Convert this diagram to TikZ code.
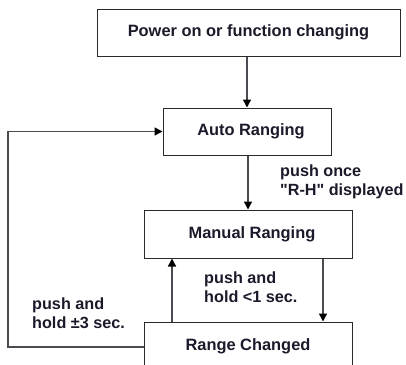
\documentclass[tikz,border=0pt]{standalone}
\usepackage{fontspec}
\setmainfont[Ligatures=TeXOff]{Liberation Sans}
\usetikzlibrary{arrows.meta}
\definecolor{linecol}{HTML}{4A4A50}
\definecolor{boxcol}{HTML}{2A2A2A}
\definecolor{txtcol}{HTML}{1A1A2A}
\begin{document}
\begin{tikzpicture}[x=1pt,y=-1pt,
  statebox/.style={draw=boxcol,line width=1pt,inner sep=0pt,text=txtcol,
    font=\fontsize{16.4}{19}\selectfont\bfseries},
  lbl/.style={inner sep=0pt,anchor=west,align=left,text=txtcol,
    font=\fontsize{16.2}{19}\selectfont\bfseries},
  arr/.style={draw=linecol,line width=1.4pt,-{Triangle[length=8pt,width=8pt,color=black]}},
  plainline/.style={draw=linecol,line width=1.4pt}]
\useasboundingbox (0,0) rectangle (406,364);
\clip (0,0) rectangle (406,364);
\node[statebox,minimum width=303pt,minimum height=47pt] (power) at (248.5,32.5) {Power on or function changing};
\node[statebox,minimum width=168pt,minimum height=47pt] (auto) at (247,131.5) {\hspace{8pt}Auto Ranging};
\node[statebox,minimum width=208pt,minimum height=48pt] (manual) at (248,234) {\hspace{8pt}Manual Ranging};
\node[statebox,minimum width=208pt,minimum height=48pt] (range) at (248,346) {Range Changed};
\draw[arr] (auto.north |- power.south) -- (auto.north);
\draw[arr] ([xshift=1pt]auto.south) -- ([xshift=1pt]auto.south |- manual.north);
\draw[arr] ([xshift=75pt]manual.south) -- ([xshift=75pt]range.north);
\draw[arr] ([xshift=-76pt]range.north) -- ([xshift=-76pt]manual.south);
\coordinate (loopcorner) at (8,347);
\draw[arr] ([yshift=-1pt]range.west) -- (loopcorner) |- (auto.west);
\node[lbl] (l1) at (280,181.5) {push once\\"R-H" displayed};
\node[lbl] (l2) at (204,287.5) {push and\\hold <1 sec.};
\node[lbl] (l3) at (32,313) {push and\\hold ±3 sec.};
\end{tikzpicture}
\end{document}
